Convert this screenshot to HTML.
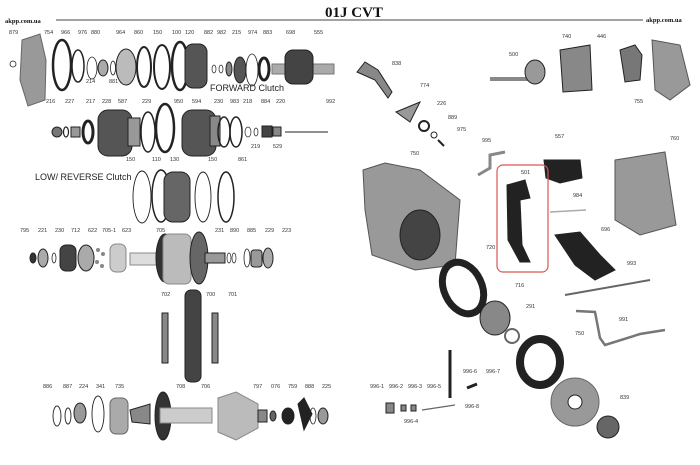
<!DOCTYPE html>
<html><head><meta charset="utf-8"><style>
html,body{margin:0;padding:0;background:#fff;width:700px;height:465px;overflow:hidden}
svg{display:block}
.l{font-family:"Liberation Sans",sans-serif;font-size:5.5px;fill:#333}
.c{font-family:"Liberation Sans",sans-serif;font-size:9px;fill:#222}
</style></head><body>
<svg width="700" height="465" viewBox="0 0 700 465" xmlns="http://www.w3.org/2000/svg">
<rect width="700" height="465" fill="#fff"/>
<text x="325" y="17" font-family="Liberation Serif,serif" font-weight="bold" font-size="15" fill="#111">01J CVT</text>
<line x1="56" y1="20" x2="643" y2="20" stroke="#444" stroke-width="1"/>
<text x="5" y="23" font-family="Liberation Serif,serif" font-weight="bold" font-size="6.5" fill="#111">akpp.com.ua</text>
<text x="646" y="22" font-family="Liberation Serif,serif" font-weight="bold" font-size="6.5" fill="#111">akpp.com.ua</text>

<g class="l">
<text x="9" y="34">879</text><text x="44" y="34">754</text><text x="61" y="34">966</text><text x="78" y="34">976</text><text x="91" y="34">880</text><text x="116" y="34">964</text><text x="134" y="34">860</text><text x="153" y="34">150</text><text x="172" y="34">100</text><text x="185" y="34">120</text><text x="204" y="34">882</text><text x="217" y="34">982</text><text x="232" y="34">215</text><text x="248" y="34">974</text><text x="263" y="34">883</text><text x="286" y="34">698</text><text x="314" y="34">555</text>
<text x="86" y="83">214</text><text x="109" y="83">881</text>
<text x="46" y="103">216</text><text x="65" y="103">227</text><text x="86" y="103">217</text><text x="102" y="103">228</text><text x="118" y="103">587</text><text x="142" y="103">229</text><text x="174" y="103">950</text><text x="192" y="103">594</text><text x="214" y="103">230</text><text x="230" y="103">983</text><text x="243" y="103">218</text><text x="261" y="103">884</text><text x="276" y="103">220</text><text x="326" y="103">992</text>
<text x="251" y="148">219</text><text x="273" y="148">529</text>
<text x="126" y="161">150</text><text x="152" y="161">110</text><text x="170" y="161">130</text><text x="208" y="161">150</text><text x="238" y="161">861</text>
<text x="20" y="232">795</text><text x="38" y="232">221</text><text x="55" y="232">230</text><text x="71" y="232">712</text><text x="88" y="232">622</text><text x="102" y="232">705-1</text><text x="122" y="232">623</text><text x="156" y="232">705</text><text x="215" y="232">231</text><text x="230" y="232">890</text><text x="247" y="232">885</text><text x="265" y="232">229</text><text x="282" y="232">223</text>
<text x="161" y="296">702</text><text x="206" y="296">700</text><text x="228" y="296">701</text>
<text x="43" y="388">886</text><text x="63" y="388">887</text><text x="79" y="388">224</text><text x="96" y="388">341</text><text x="115" y="388">735</text><text x="176" y="388">708</text><text x="201" y="388">706</text><text x="253" y="388">797</text><text x="271" y="388">076</text><text x="288" y="388">759</text><text x="305" y="388">888</text><text x="322" y="388">225</text>
<text x="392" y="65">838</text><text x="420" y="87">774</text><text x="437" y="105">226</text><text x="448" y="119">889</text><text x="457" y="131">975</text><text x="509" y="56">500</text><text x="562" y="38">740</text><text x="597" y="38">446</text><text x="634" y="103">755</text><text x="482" y="142">995</text><text x="555" y="138">557</text><text x="670" y="140">760</text><text x="410" y="155">750</text><text x="521" y="174">501</text><text x="573" y="197">984</text><text x="601" y="231">696</text><text x="486" y="249">720</text><text x="515" y="287">716</text><text x="627" y="265">993</text><text x="526" y="308">291</text><text x="619" y="321">991</text><text x="575" y="335">750</text><text x="463" y="373">996-6</text><text x="486" y="373">996-7</text><text x="370" y="388">996-1</text><text x="389" y="388">996-2</text><text x="408" y="388">996-3</text><text x="427" y="388">996-5</text><text x="465" y="408">996-8</text><text x="404" y="423">996-4</text><text x="620" y="399">839</text>
</g>
<text class="c" x="210" y="91">FORWARD Clutch</text>
<text class="c" x="35" y="180">LOW/ REVERSE Clutch</text>

<g stroke="#222" fill="none">
<circle cx="13" cy="64" r="3" stroke-width="0.8"/>
<path d="M22 40 L40 34 L46 60 L45 100 L28 106 L20 80Z" fill="#999" stroke="#666"/>
<ellipse cx="62" cy="65" rx="9" ry="25" stroke-width="2.5"/>
<ellipse cx="78" cy="66" rx="6" ry="16" stroke-width="1.5"/>
<ellipse cx="92" cy="68" rx="5" ry="11" stroke-width="0.8"/>
<ellipse cx="103" cy="68" rx="5" ry="8" fill="#aaa"/>
<ellipse cx="113" cy="68" rx="2.5" ry="7" stroke-width="0.8"/>
<ellipse cx="126" cy="67" rx="10" ry="18" fill="#bbb"/>
<ellipse cx="144" cy="67" rx="7" ry="20" stroke-width="2"/>
<ellipse cx="162" cy="67" rx="8" ry="22" stroke-width="2"/>
<ellipse cx="180" cy="66" rx="8" ry="24" stroke-width="2.5"/>
<rect x="185" y="44" width="22" height="44" rx="8" fill="#555"/>
<ellipse cx="214" cy="69" rx="2" ry="4" stroke-width="0.7"/><ellipse cx="221" cy="69" rx="2" ry="4" stroke-width="0.7"/>
<ellipse cx="229" cy="69" rx="3" ry="7" fill="#888"/>
<ellipse cx="240" cy="70" rx="6" ry="13" fill="#555"/>
<ellipse cx="252" cy="70" rx="6" ry="16" stroke-width="0.8"/>
<ellipse cx="264" cy="69" rx="5" ry="11" stroke-width="3"/>
<rect x="272" y="64" width="62" height="10" fill="#aaa" stroke="#777"/>
<rect x="285" y="50" width="28" height="34" rx="8" fill="#444"/>
<circle cx="57" cy="132" r="5" fill="#777"/><ellipse cx="66" cy="132" rx="2.5" ry="5" stroke-width="1.2"/>
<rect x="71" y="127" width="9" height="10" fill="#999"/>
<ellipse cx="88" cy="132" rx="5" ry="11" stroke-width="3"/>
<rect x="98" y="110" width="34" height="46" rx="10" fill="#555"/>
<rect x="128" y="118" width="12" height="28" fill="#999"/>
<ellipse cx="148" cy="132" rx="7" ry="20" stroke-width="1.5"/>
<ellipse cx="165" cy="128" rx="9" ry="24" stroke-width="2.5"/>
<rect x="182" y="110" width="34" height="46" rx="10" fill="#555"/>
<rect x="210" y="116" width="10" height="30" fill="#888"/>
<ellipse cx="224" cy="132" rx="6" ry="15" stroke-width="1.5"/><ellipse cx="236" cy="132" rx="6" ry="15" stroke-width="1.5"/>
<ellipse cx="248" cy="132" rx="3" ry="5" stroke-width="0.7"/><ellipse cx="256" cy="132" rx="2" ry="4" stroke-width="0.7"/>
<rect x="262" y="126" width="10" height="11" fill="#444"/><rect x="273" y="127" width="8" height="9" fill="#888"/>
<line x1="285" y1="132" x2="328" y2="132" stroke-width="1"/>
<ellipse cx="142" cy="197" rx="9" ry="26" stroke-width="0.9"/>
<ellipse cx="161" cy="196" rx="9" ry="26" stroke-width="1.5"/>
<rect x="164" y="172" width="26" height="50" rx="9" fill="#666"/>
<ellipse cx="203" cy="197" rx="8" ry="25" stroke-width="0.9"/>
<ellipse cx="226" cy="197" rx="8" ry="25" stroke-width="1.5"/>
<ellipse cx="33" cy="258" rx="3" ry="5" fill="#333"/>
<ellipse cx="43" cy="258" rx="5" ry="9" fill="#aaa"/>
<ellipse cx="54" cy="258" rx="2" ry="5" stroke-width="0.8"/>
<rect x="60" y="245" width="16" height="26" rx="6" fill="#444"/>
<ellipse cx="86" cy="258" rx="8" ry="13" fill="#aaa"/>
<g fill="#888" stroke="none"><circle cx="98" cy="250" r="2"/><circle cx="103" cy="254" r="2"/><circle cx="97" cy="262" r="2"/><circle cx="102" cy="266" r="2"/></g>
<rect x="110" y="244" width="16" height="28" rx="6" fill="#ccc" stroke="#888"/>
<rect x="130" y="253" width="50" height="12" fill="#ddd" stroke="#888"/>
<ellipse cx="165" cy="258" rx="9" ry="24" fill="#333"/>
<rect x="163" y="234" width="28" height="50" rx="6" fill="#bbb" stroke="#888"/>
<ellipse cx="199" cy="258" rx="9" ry="26" fill="#666"/>
<rect x="205" y="253" width="20" height="10" fill="#999"/>
<ellipse cx="229" cy="258" rx="2" ry="5" stroke-width="0.7"/><ellipse cx="234" cy="258" rx="2" ry="5" stroke-width="0.7"/>
<ellipse cx="247" cy="258" rx="3" ry="9" stroke-width="0.8"/>
<rect x="251" y="250" width="11" height="17" rx="3" fill="#999"/>
<ellipse cx="268" cy="258" rx="5" ry="10" fill="#aaa"/>
<rect x="185" y="290" width="16" height="92" rx="6" fill="#444"/>
<rect x="162" y="313" width="6" height="50" fill="#888"/>
<rect x="212" y="313" width="6" height="50" fill="#888"/>
<ellipse cx="57" cy="416" rx="4" ry="10" stroke-width="0.9"/>
<ellipse cx="68" cy="416" rx="3" ry="8" stroke-width="0.9"/>
<ellipse cx="80" cy="413" rx="6" ry="10" fill="#999"/>
<ellipse cx="98" cy="414" rx="6" ry="18" stroke-width="0.9"/>
<rect x="110" y="398" width="18" height="36" rx="6" fill="#aaa" stroke="#666"/>
<path d="M130 410 L150 404 L150 424 L132 422Z" fill="#888"/>
<ellipse cx="163" cy="416" rx="8" ry="24" fill="#333"/>
<rect x="160" y="408" width="52" height="15" fill="#ccc" stroke="#888"/>
<path d="M218 398 L236 392 L258 404 L258 428 L236 440 L218 432Z" fill="#bbb" stroke="#888"/>
<rect x="258" y="410" width="9" height="12" fill="#888"/>
<ellipse cx="273" cy="416" rx="3" ry="5" fill="#666"/>
<ellipse cx="288" cy="416" rx="6" ry="8" fill="#222"/>
<path d="M298 404 L304 398 L312 414 L304 430Z" fill="#222"/>
<ellipse cx="313" cy="416" rx="3" ry="8" stroke-width="0.8"/>
<ellipse cx="323" cy="416" rx="5" ry="8" fill="#999"/>

<path d="M357 72 L365 62 L378 70 L392 92 L388 98 L375 80 Z" fill="#888"/>
<path d="M396 112 L420 102 L410 122Z" fill="#999"/>
<circle cx="424" cy="126" r="5" stroke-width="2"/>
<circle cx="434" cy="135" r="3" stroke-width="1"/>
<line x1="438" y1="140" x2="444" y2="146" stroke-width="2"/>
<rect x="490" y="77" width="45" height="4" fill="#888" stroke="none"/>
<ellipse cx="535" cy="72" rx="10" ry="12" fill="#999"/>
<path d="M560 50 L590 45 L592 90 L563 92Z" fill="#888"/>
<path d="M620 50 L635 45 L642 55 L640 80 L625 82Z" fill="#777"/>
<path d="M652 40 L680 45 L690 85 L670 100 L655 90Z" fill="#999" stroke="#555"/>
<path d="M478 175 L490 168 L490 155 L505 152" stroke-width="3" stroke="#888"/>
<path d="M544 160 L580 160 L582 178 L560 183 L546 178Z" fill="#222"/>
<path d="M615 160 L665 152 L676 225 L640 235 L615 220Z" fill="#999" stroke="#555"/>
<path d="M363 170 L385 163 L420 170 L460 200 L455 265 L415 270 L372 255 L365 210Z" fill="#999" stroke="#555"/>
<ellipse cx="420" cy="235" rx="20" ry="25" fill="#444"/>
<rect x="497" y="165" width="51" height="107" rx="6" fill="none" stroke="#d55" stroke-width="1.2"/>
<path d="M507 185 L525 180 L530 198 L520 200 L522 245 L530 262 L520 262 L508 240Z" fill="#222"/>
<line x1="550" y1="212" x2="586" y2="210" stroke-width="1.5" stroke="#aaa"/>
<path d="M555 235 L580 232 L600 255 L615 270 L595 280 L575 265Z" fill="#222"/>
<line x1="565" y1="295" x2="650" y2="280" stroke-width="2" stroke="#666"/>
<ellipse cx="463" cy="288" rx="19" ry="27" transform="rotate(-25 463 288)" fill="#fff" stroke="#222" stroke-width="7"/>
<ellipse cx="495" cy="318" rx="15" ry="17" fill="#888"/>
<circle cx="512" cy="336" r="7" stroke-width="2" stroke="#666"/>
<path d="M576 311 L595 312 L600 338 L605 345 L640 334 L665 330" stroke-width="2.5" stroke="#777"/>
<ellipse cx="540" cy="362" rx="20" ry="23" fill="#fff" stroke="#222" stroke-width="8"/>
<ellipse cx="575" cy="402" rx="24" ry="24" fill="#999" stroke="#666"/>
<circle cx="575" cy="402" r="7" fill="#fff"/>
<ellipse cx="608" cy="427" rx="11" ry="11" fill="#666"/>
<line x1="450" y1="350" x2="450" y2="398" stroke-width="3"/>
<line x1="422" y1="410" x2="455" y2="405" stroke-width="1.2" stroke="#666"/>
<rect x="386" y="403" width="8" height="10" fill="#888"/>
<rect x="401" y="405" width="5" height="6" fill="#888"/>
<rect x="411" y="405" width="5" height="6" fill="#888"/>
<path d="M467 388 L477 384" stroke-width="3"/>
</g>
</svg>
</body></html>
